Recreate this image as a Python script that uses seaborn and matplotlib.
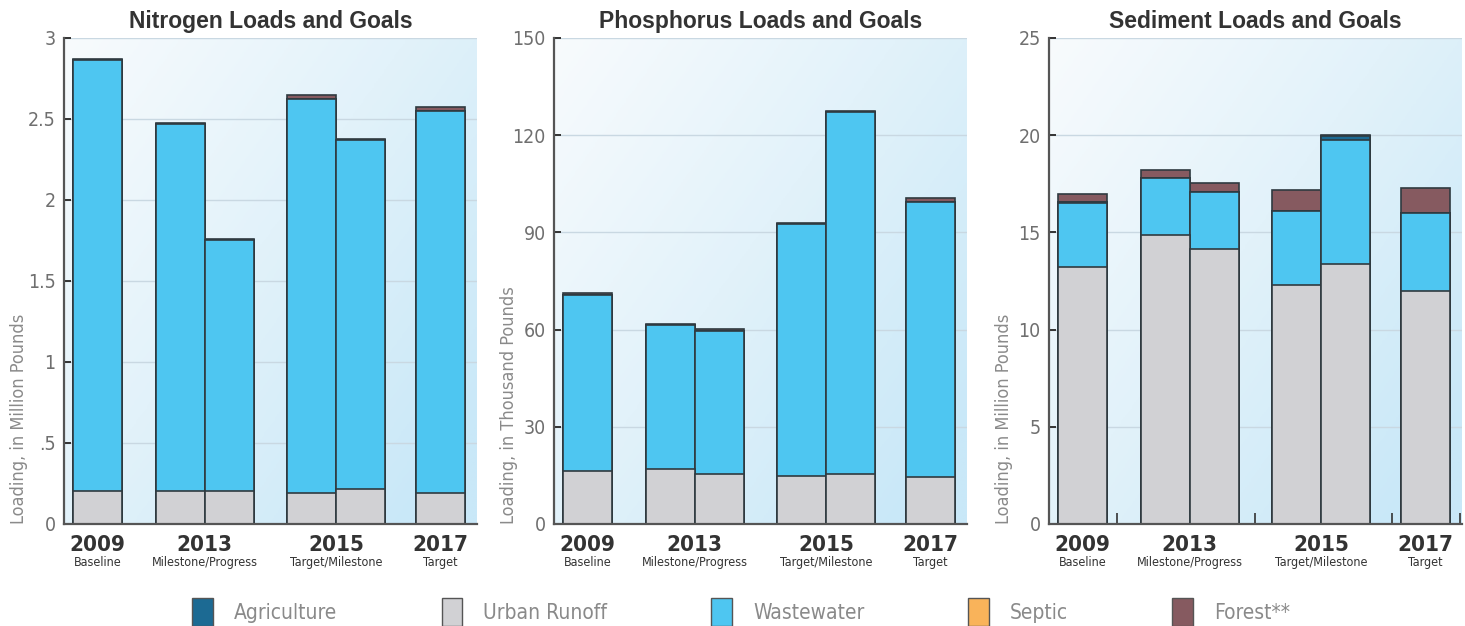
import numpy as np
import pandas as pd
import matplotlib
matplotlib.use('Agg')
import matplotlib.pyplot as plt
from matplotlib.colors import LinearSegmentedColormap
from matplotlib.patches import Patch
import matplotlib.transforms as mtransforms
import seaborn as sns

# Data
years = ['2009', '2013', '2013', '2015', '2015', '2017']
group_years = ['2009', '2013', '2015', '2017']
group_notes = ['Baseline', 'Milestone/Progress', 'Target/Milestone', 'Target']
sources = ['Agriculture', 'Urban Runoff', 'Wastewater', 'Septic', 'Forest**']

n_urban = [0.205, 0.205, 0.205, 0.193, 0.216, 0.193]
n_waste = [2.657, 2.262, 1.546, 2.432, 2.152, 2.358]
n_agri = [0.0, 0.0, 0.0, 0.0, 0.0, 0.0]
n_septic = [0.0, 0.0, 0.0, 0.0, 0.0, 0.0]
n_forest = [0.006, 0.006, 0.006, 0.025, 0.006, 0.025]

p_urban = [16.3, 16.9, 15.3, 14.8, 15.3, 14.4]
p_waste = [54.5, 44.5, 44.3, 77.9, 111.7, 85.1]
p_agri = [0.0, 0.0, 0.0, 0.0, 0.0, 0.0]
p_septic = [0.0, 0.0, 0.0, 0.0, 0.0, 0.0]
p_forest = [0.4, 0.3, 0.6, 0.3, 0.3, 1.0]

s_urban = [13.24, 14.84, 14.15, 12.28, 13.39, 12.0]
s_waste = [3.25, 2.93, 2.93, 3.84, 6.36, 3.97]
s_agri = [0.05, 0.03, 0.02, 0.0, 0.2, 0.03]
s_septic = [0.0, 0.0, 0.0, 0.0, 0.0, 0.0]
s_forest = [0.45, 0.4, 0.42, 1.05, 0.04, 1.26]

# Layout
bar_pos = [0.6875, 2.375, 3.375, 5.0625, 6.0625, 7.6875]
x_max = 8.4375
colors = {'Agriculture': '#1c6a93', 'Urban Runoff': '#d1d1d4', 'Wastewater': '#4ec6f1',
          'Septic': '#f9b35a', 'Forest**': '#865a60'}
edge = '#2f3a40'

sns.set_style('white')
plt.rcParams['font.family'] = ['DejaVu Sans']
plt.rcParams['font.stretch'] = 'condensed'

panels = [
    ('Nitrogen Loads and Goals', 'Loading, in Million Pounds',
     [n_urban, n_waste, n_agri, n_septic, n_forest], 3, [0, 0.5, 1, 1.5, 2, 2.5, 3],
     ['0', '.5', '1', '1.5', '2', '2.5', '3'], 0.0437),
    ('Phosphorus Loads and Goals', 'Loading, in Thousand Pounds',
     [p_urban, p_waste, p_agri, p_septic, p_forest], 150, [0, 30, 60, 90, 120, 150],
     ['0', '30', '60', '90', '120', '150'], 0.3782),
    ('Sediment Loads and Goals', 'Loading, in Million Pounds',
     [s_urban, s_waste, s_agri, s_septic, s_forest], 25, [0, 5, 10, 15, 20, 25],
     ['0', '5', '10', '15', '20', '25'], 0.7160),
]
stack_names = ['Urban Runoff', 'Wastewater', 'Agriculture', 'Septic', 'Forest**']

bg = LinearSegmentedColormap.from_list('bg', ['#f8fbfd', '#e2f2fa', '#c9e8f8'])
gx, gy = np.meshgrid(np.linspace(0, 1, 200), np.linspace(0, 1, 200))
grad = np.clip(0.6 * gx + 0.5 * gy, 0, 1)

fig = plt.figure(figsize=(14.65, 6.26), dpi=100)

for i, (title, ylab, stack, ymax, ticks, ticklabels, left) in enumerate(panels):
    ax = fig.add_axes([left, 0.163, 0.2819, 0.7764])
    ax.imshow(grad, extent=[0, x_max, 0, ymax], aspect='auto', cmap=bg,
              origin='upper', zorder=0)
    for t in ticks[1:]:
        ax.axhline(t, color='#c9d8e2', lw=1, zorder=0.5)

    cum = np.cumsum(np.array(stack), axis=0)
    # draw tallest cumulative first so each lower segment covers the one above
    for k in range(len(stack_names) - 1, -1, -1):
        df = pd.DataFrame({'pos': bar_pos, 'value': cum[k], 'year': years})
        sns.barplot(data=df, x='pos', y='value', native_scale=True, width=1,
                    color=colors[stack_names[k]], saturation=1, edgecolor=edge,
                    linewidth=1.2, errorbar=None, ax=ax, zorder=2)

    ax.set_xlim(0, x_max)
    ax.set_ylim(0, ymax)
    ax.set_yticks(ticks)
    ax.set_yticklabels(ticklabels)
    ax.tick_params(axis='y', direction='in', length=5, width=1.4, color='#333333',
                   labelsize=14, labelcolor='#6f6f6f', pad=6, left=True)
    if i == 2:
        ax.set_xticks([1.4, 4.2, 7.0, 8.4])
        ax.tick_params(axis='x', direction='in', length=8, width=1.2, color='#333333',
                       labelbottom=False, bottom=True)
    else:
        ax.set_xticks([])
    ax.set_xlabel('')
    ax.set_ylabel('')
    for s in ['top', 'right']:
        ax.spines[s].set_visible(False)
    for s in ['left', 'bottom']:
        ax.spines[s].set_color('#555555')
        ax.spines[s].set_linewidth(1.6)
        ax.spines[s].set_zorder(5)

    ax.set_title(title, family=['Liberation Sans', 'DejaVu Sans'], fontweight='bold',
                 fontstretch='normal', fontsize=16.5, color='#333333', pad=7)
    ax.text(-0.11, 0, ylab, rotation=90, ha='center', va='bottom', fontsize=13,
            color='#8a8a8a', transform=ax.transAxes)

    trans = mtransforms.blended_transform_factory(ax.transData, ax.transAxes)
    group_x = [bar_pos[0], (bar_pos[1] + bar_pos[2]) / 2,
               (bar_pos[3] + bar_pos[4]) / 2, bar_pos[5]]
    for gx_, yr, note in zip(group_x, group_years, group_notes):
        ax.text(gx_, -0.043, yr, ha='center', va='center', fontsize=16,
                fontweight='bold', color='#333333', transform=trans)
        ax.text(gx_, -0.079, note, ha='center', va='center', fontsize=9,
                color='#333333', transform=trans)

handles = [Patch(facecolor=colors[s], edgecolor='#555555', linewidth=1) for s in sources]
leg = fig.legend(handles, sources, loc='center', bbox_to_anchor=(0.506, 0.022), ncol=5,
                 frameon=False, fontsize=15, handlelength=1.0, handleheight=1.7,
                 handletextpad=1.0, columnspacing=5.0)
for t in leg.get_texts():
    t.set_color('#8a8a8a')

fig.savefig('out.png', dpi=100)
